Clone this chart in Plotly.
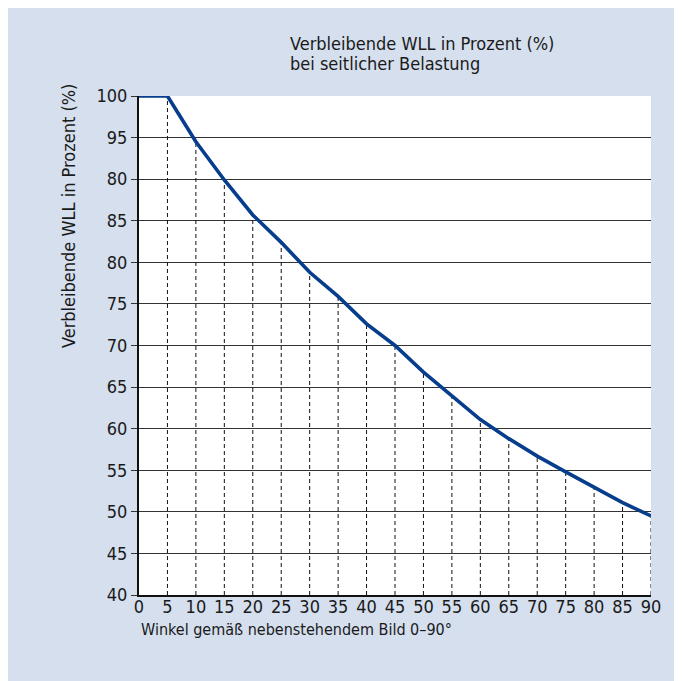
import plotly.graph_objects as go

# Data
angles = [0, 5, 10, 15, 20, 25, 30, 35, 40, 45, 50, 55, 60, 65, 70, 75, 80, 85, 90]
wll = [100, 100, 94.5, 89.9, 85.7, 82.4, 78.8, 75.9, 72.6, 70.0, 66.8, 63.9,
       61.1, 58.8, 56.7, 54.8, 53.0, 51.1, 49.5]
y_tickvals = [40, 45, 50, 55, 60, 65, 70, 75, 80, 85, 90, 95, 100]
y_ticktext = ["40", "45", "50", "55", "60", "65", "70", "75", "80", "85", "80", "95", "100"]
x_tickvals = angles
title_lines = ["Verbleibende WLL in Prozent (%)", "bei seitlicher Belastung"]
ytitle_text = "Verbleibende WLL in Prozent (%)"
xtitle_text = "Winkel gemäß nebenstehendem Bild 0–90°"

OFF = 8  # page body margin
W, H = 682 - OFF, 681 - OFF
ML, MT = 139 - OFF, 96 - OFF
MR = W - (651 - OFF)
MB = H - (595 - OFF)
PW, PH = W - ML - MR, H - MT - MB

def px_x(p):  # p in reference-screen pixels
    return (p - OFF - ML) / PW

def px_y(p):
    return (H - MB - (p - OFF)) / PH

FONT = "DejaVu Sans Condensed, Liberation Sans, Arial, sans-serif"
BLUE_BG = "#D5DFEE"
LINE = "#063D8C"
TXT = "#1a1a1a"

y_min = y_tickvals[0]

# Drop lines from bottom of axis to the curve
drop_x, drop_y = [], []
for a, v in zip(angles[1:], wll[1:]):
    drop_x += [a, a, None]
    drop_y += [y_min, v, None]

fig = go.Figure()
fig.add_trace(go.Scatter(x=drop_x, y=drop_y, mode="lines",
                         line=dict(color="#111", width=1, dash="4px,3px"),
                         hoverinfo="skip", showlegend=False))
fig.add_trace(go.Scatter(x=angles, y=wll, mode="lines",
                         line=dict(color=LINE, width=3.6),
                         cliponaxis=False, showlegend=False))

annotations = []
for i, (line_text, yc) in enumerate(zip(title_lines, [43, 64])):
    annotations.append(dict(text=line_text, xref="paper", yref="paper",
                            x=px_x(288), y=px_y(yc), xanchor="left", yanchor="middle",
                            align="left", showarrow=False,
                            font=dict(size=18, family=FONT, color=TXT)))
annotations += [
    dict(text=ytitle_text, xref="paper", yref="paper",
         x=px_x(68), y=px_y(216), xanchor="center", yanchor="middle",
         textangle=-90, showarrow=False,
         font=dict(size=18, family=FONT, color=TXT)),
    dict(text=xtitle_text, xref="paper", yref="paper",
         x=px_x(139), y=px_y(629), xanchor="left", yanchor="middle",
         align="left", showarrow=False,
         font=dict(size=16, family=FONT, color=TXT)),
]

fig.update_layout(
    width=W, height=H,
    margin=dict(l=ML, r=MR, t=MT, b=MB),
    paper_bgcolor=BLUE_BG,
    plot_bgcolor="white",
    font=dict(family=FONT, size=18, color=TXT),
    xaxis=dict(range=[0, 90], tickvals=x_tickvals, showgrid=False,
               showline=True, linecolor="#111", linewidth=2,
               ticks="", zeroline=False, ticklabelstandoff=-6,
               tickfont=dict(size=18, family=FONT, color=TXT)),
    yaxis=dict(range=[40, 100], tickvals=y_tickvals, ticktext=y_ticktext,
               showgrid=True, gridcolor="#333", gridwidth=1,
               showline=True, linecolor="#111", linewidth=2,
               ticks="outside", ticklen=6, tickcolor="#333", tickwidth=1,
               zeroline=False, tickfont=dict(size=18, family=FONT, color=TXT)),
    annotations=annotations,
)

fig.write_html("out.html")
